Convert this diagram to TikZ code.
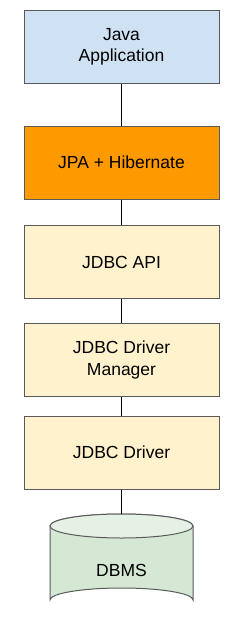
\documentclass[tikz,border=0pt]{standalone}
\usepackage{fontspec}
\setmainfont{Liberation Sans}
\definecolor{bluefill}{HTML}{CFE2F3}
\definecolor{orangefill}{HTML}{FF9900}
\definecolor{yellowfill}{HTML}{FFF2CC}
\definecolor{greenfill}{HTML}{D5E8D4}
\definecolor{edgegray}{HTML}{5A5A5A}
\begin{document}
\begin{tikzpicture}[x=1pt,y=-1pt,
  layer/.style={draw=edgegray, line width=1pt, minimum width=195pt, minimum height=73pt,
    align=center, inner sep=0pt, font=\fontsize{17.5}{21.5}\selectfont},
  link/.style={draw=black, line width=1pt}]
\useasboundingbox (0,0) rectangle (239,624);
\fill[white] (0,0) rectangle (239,624);
\node[layer, fill=bluefill] (app) at (121.5,47) {Java\\Application};
\node[layer, fill=orangefill] (jpa) at (121.5,162.5) {JPA + Hibernate};
\node[layer, fill=yellowfill] (api) at (121.5,262) {JDBC API};
\node[layer, fill=yellowfill] (mgr) at (121.5,360) {JDBC Driver\\Manager};
\node[layer, fill=yellowfill] (drv) at (121.5,452.5) {JDBC Driver};
% cylinder
\draw[draw=edgegray, line width=1pt, fill=greenfill]
  (50,526) -- (50,600) arc[start angle=180, end angle=360, x radius=71.5, y radius=12]
  -- (193,526) arc[start angle=0, end angle=-180, x radius=71.5, y radius=12] -- cycle;
\draw[draw=edgegray, line width=1pt, fill=greenfill!60!white]
  (121.5,526) ellipse[x radius=71.5, y radius=12];
\node[minimum width=143pt, minimum height=98pt, inner sep=0pt] (dbmsbox) at (121.5,563) {};
\node[font=\fontsize{17.5}{21.5}\selectfont, inner sep=0pt] (dbms) at (121.5,570) {DBMS};
\draw[link] (app.south) -- (jpa.north);
\draw[link] (jpa.south) -- (api.north);
\draw[link] (api.south) -- (mgr.north);
\draw[link] (mgr.south) -- (drv.north);
\draw[link] (drv.south) -- (dbmsbox.north);
\end{tikzpicture}
\end{document}
